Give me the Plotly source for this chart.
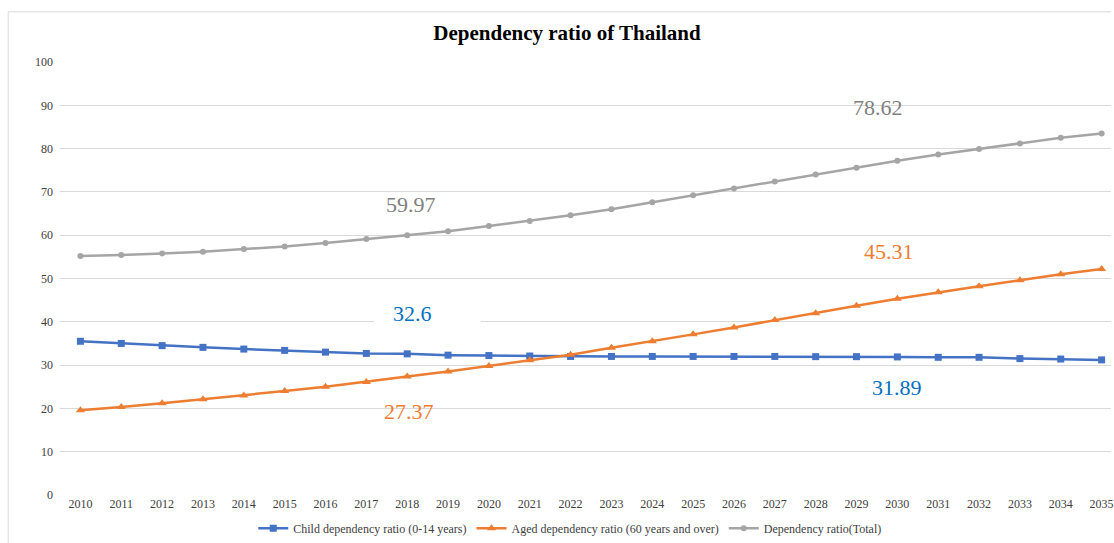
import plotly.graph_objects as go

years = [str(y) for y in range(2010, 2036)]
child = [35.5, 35.0, 34.5, 34.1, 33.7, 33.4, 33.0, 32.7, 32.6, 32.3, 32.2, 32.1, 32.0, 32.0,
         32.0, 32.0, 32.0, 32.0, 31.95, 31.95, 31.89, 31.8, 31.8, 31.5, 31.4, 31.2]
aged = [19.6, 20.3, 21.2, 22.1, 23.0, 24.0, 25.0, 26.1, 27.37, 28.5, 29.8, 31.1, 32.4, 34.0,
        35.5, 37.1, 38.7, 40.4, 42.0, 43.7, 45.31, 46.8, 48.2, 49.6, 51.0, 52.2]
total = [55.2, 55.4, 55.8, 56.2, 56.8, 57.4, 58.2, 59.1, 59.97, 60.9, 62.1, 63.3, 64.6, 66.0,
         67.6, 69.2, 70.8, 72.4, 74.0, 75.6, 77.2, 78.62, 79.9, 81.2, 82.5, 83.5]
names = ["Child dependency ratio (0-14 years)",
         "Aged dependency ratio (60 years and over)",
         "Dependency ratio(Total)"]
y_ticks = list(range(0, 101, 10))

# label annotations: (text, category position offset, y value, colour)
labels = [
    ("59.97", 8.1, 67.0, "#7F7F7F"),
    ("78.62", 19.52, 89.5, "#7F7F7F"),
    ("45.31", 19.8, 56.3, "#ED7D31"),
    ("32.6", 8.14, 41.9, "#0070C0"),
    ("27.37", 8.05, 19.4, "#ED7D31"),
    ("31.89", 20.0, 24.8, "#0070C0"),
]

serif = "Liberation Serif"
fig = go.Figure()
fig.add_trace(go.Scatter(x=years, y=child, name=names[0], mode="lines+markers",
                         line=dict(color="#4472C4", width=2.5),
                         marker=dict(symbol="square", size=7, color="#4472C4")))
fig.add_trace(go.Scatter(x=years, y=aged, name=names[1], mode="lines+markers",
                         line=dict(color="#ED7D31", width=2.5),
                         marker=dict(symbol="triangle-up", size=8, color="#ED7D31")))
fig.add_trace(go.Scatter(x=years, y=total, name=names[2], mode="lines+markers",
                         line=dict(color="#A5A5A5", width=2.5),
                         marker=dict(symbol="circle", size=6, color="#A5A5A5")))

for txt, xc, yv, col in labels:
    fig.add_annotation(x=xc, y=yv, xref="x", yref="y", text=txt, showarrow=False,
                       font=dict(family=serif, size=22, color=col), borderpad=0)

# white label box behind "32.6" hiding part of the 40 gridline
fig.add_shape(type="rect", xref="x", yref="y", x0=7.19, x1=9.8, y0=39.3, y1=40.7,
              fillcolor="white", line=dict(width=0), layer="between")

# chart border lines (top and left)
fig.add_shape(type="line", xref="paper", yref="paper", x0=-0.0493, x1=1.0, y0=1.1159, y1=1.1159,
              line=dict(color="#D9D9D9", width=1))
fig.add_shape(type="line", xref="paper", yref="paper", x0=-0.0493, x1=-0.0493, y0=-0.2, y1=1.1159,
              line=dict(color="#D9D9D9", width=1))

fig.update_layout(
    width=1114, height=543,
    margin=dict(l=60, r=0, t=62, b=44),
    paper_bgcolor="white", plot_bgcolor="white",
    title=dict(text="<b>Dependency ratio of Thailand</b>", x=0.509, xanchor="center",
               y=1 - 33 / 543, yanchor="middle",
               font=dict(family=serif, size=21, color="black")),
    font=dict(family=serif, size=12, color="#404040"),
    showlegend=True,
    legend=dict(orientation="h", x=0.485, xanchor="center", y=-0.077, yanchor="middle",
                font=dict(family=serif, size=12, color="#404040"),
                itemwidth=30, tracegroupgap=0, bgcolor="rgba(0,0,0,0)"),
    xaxis=dict(type="category", range=[-0.5, 25.23], showgrid=False, zeroline=False,
               showline=False, ticks="", tickfont=dict(family=serif, size=12, color="#404040")),
    yaxis=dict(range=[0, 100], tickvals=y_ticks, showgrid=True, gridcolor="#D9D9D9",
               gridwidth=1, zeroline=False, showline=False, ticks="",
               ticklabelstandoff=6,
               tickfont=dict(family=serif, size=12, color="#404040")),
)

fig.write_html("out.html")
